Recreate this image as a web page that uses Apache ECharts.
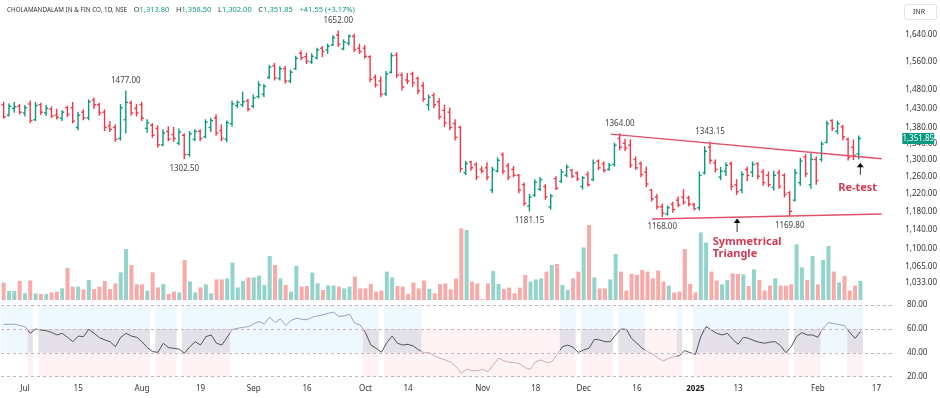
<!DOCTYPE html>
<html><head><meta charset="utf-8">
<script src="https://cdn.jsdelivr.net/npm/echarts/dist/echarts.min.js"></script>
<style>html,body{margin:0;padding:0;background:#fff}#c{width:940px;height:398px}</style>
</head><body><div id="c"></div>
<script>
// first bar index (Jul 1 2024 = 0)
const FIRST = -4;
const opens = [
1440,1412,1430,1436,1418,1442,1400,1440,1418,1428,
1412,1404,1432,1432,1380,1420,1405,1452,1440,1420,
1384,1380,1352,1400,1445,1430,1440,1378,1386,1378,
1336,1370,1362,1340,1360,1312,1350,1370,1356,1380,
1405,1372,1350,1390,1438,1440,1450,1436,1462,1468,
1515,1548,1512,1540,1505,1540,1585,1575,1560,1572,
1600,1595,1610,1640,1598,1615,1636,1600,1600,1575,
1515,1505,1470,1530,1580,1522,1508,1525,1512,1492,
1440,1465,1448,1425,1420,1390,1380,1268,1294,1288,
1276,1280,1228,1272,1312,1285,1276,1262,1240,1192,
1216,1230,1236,1190,1254,1248,1262,1274,1268,1236,
1264,1252,1296,1290,1276,1288,1352,1340,1335,1300,
1290,1270,1228,1212,1190,1174,1196,1205,1212,1210,
1195,1188,1268,1330,1292,1258,1272,1290,1240,1228,
1276,1270,1290,1270,1262,1234,1268,1262,1222,1205,
1245,1306,1240,1300,1300,1342,1398,1370,1382,1350,
1330,1313.8];
const highs = [
1446,1442,1446,1440,1438,1450,1446,1444,1438,1434,
1428,1424,1436,1446,1420,1426,1453,1458,1444,1426,
1395,1387,1440,1477,1450,1440,1446,1400,1390,1384,
1374,1382,1380,1376,1364,1370,1374,1374,1400,1404,
1413,1387,1397,1449,1450,1474,1455,1466,1503,1495,
1550,1555,1546,1546,1536,1576,1592,1585,1583,1600,
1605,1612,1638,1652,1625,1640,1642,1612,1608,1578,
1522,1516,1532,1585,1586,1528,1526,1530,1516,1500,
1466,1471,1456,1438,1431,1400,1383,1296,1296,1292,
1282,1292,1281,1304,1316,1290,1283,1264,1244,1218,
1252,1257,1241,1218,1259,1276,1287,1276,1270,1259,
1270,1299,1299,1294,1290,1340,1364,1350,1348,1306,
1294,1281,1229,1218,1196,1192,1200,1212,1229,1214,
1198,1270,1331,1343.15,1299,1281,1292,1294,1252,1270,
1282,1294,1292,1276,1270,1272,1274,1266,1224,1276,
1303,1312,1314,1306,1343,1396,1400,1396,1386,1353,
1348,1358.5];
const lows = [
1404,1410,1420,1415,1410,1392,1398,1414,1412,1406,
1402,1398,1408,1392,1374,1400,1400,1430,1412,1372,
1370,1345,1348,1366,1412,1410,1398,1368,1355,1330,
1334,1346,1345,1336,1302.5,1308,1346,1346,1354,1370,
1360,1346,1344,1383,1432,1435,1423,1432,1458,1462,
1512,1508,1508,1499,1500,1538,1566,1555,1555,1568,
1575,1585,1608,1605,1596,1610,1590,1585,1570,1503,
1488,1462,1465,1528,1515,1480,1498,1490,1470,1449,
1426,1432,1402,1383,1374,1348,1270,1264,1274,1252,
1268,1252,1222,1270,1266,1252,1259,1222,1193,1181.15,
1214,1227,1207,1185,1229,1245,1259,1257,1250,1230,
1237,1250,1276,1270,1274,1284,1324,1322,1281,1276,
1259,1236,1203,1185,1168,1172,1178,1190,1196,1192,
1183,1183,1265,1291,1270,1252,1262,1229,1218,1222,
1250,1259,1254,1239,1236,1228,1232,1212,1169.8,1203,
1239,1259,1232,1241,1296,1341,1372,1364,1348,1299,
1300,1302];
const closes = [
1408,1436,1434,1420,1432,1398,1438,1420,1430,1410,
1406,1420,1414,1396,1412,1405,1448,1440,1418,1380,
1375,1350,1432,1446,1418,1418,1404,1392,1360,1336,
1366,1350,1352,1368,1312,1364,1370,1352,1394,1398,
1366,1352,1392,1442,1446,1448,1428,1458,1494,1490,
1545,1514,1540,1505,1530,1570,1572,1562,1576,1595,
1590,1606,1632,1612,1618,1636,1596,1590,1576,1510,
1494,1468,1525,1578,1522,1488,1505,1500,1478,1455,
1460,1440,1408,1392,1380,1355,1278,1290,1280,1258,
1272,1258,1276,1298,1272,1258,1262,1228,1198,1212,
1246,1252,1212,1214,1232,1270,1282,1260,1254,1256,
1240,1292,1280,1274,1286,1335,1330,1328,1286,1280,
1264,1242,1208,1190,1176,1188,1184,1194,1200,1196,
1186,1262,1320,1298,1276,1272,1286,1236,1224,1264,
1262,1288,1260,1245,1240,1262,1236,1218,1180,1268,
1296,1266,1300,1250,1338,1390,1378,1390,1356,1305,
1310.3,1351.85];
// volume, millions of shares
const volumes = [
0.87,0.45,0.45,0.95,0.33,0.98,0.33,0.30,0.30,0.38,
0.42,0.58,1.60,0.67,0.67,0.53,1.00,0.55,0.67,0.95,
0.55,0.83,1.38,2.55,1.75,0.78,0.78,0.47,1.38,0.63,
0.80,0.30,0.42,0.38,2.00,0.93,0.38,0.63,0.78,0.33,
1.03,1.03,1.08,1.87,0.63,0.95,1.12,1.13,1.22,0.75,
2.20,1.75,1.08,0.75,0.42,1.70,0.67,0.70,1.37,0.83,
0.50,0.73,0.72,0.67,0.58,0.67,1.17,0.58,0.58,0.80,
0.42,0.47,1.42,1.13,0.70,0.67,0.30,0.87,0.58,0.97,
0.55,0.33,0.80,0.83,0.53,1.07,3.58,3.50,0.92,0.83,
0.05,0.83,1.45,0.80,0.55,0.62,0.33,0.62,1.25,0.92,
1.03,1.08,1.42,1.75,1.80,0.75,0.50,1.08,1.42,2.63,
3.75,1.13,0.58,0.58,1.03,2.30,1.42,0.47,1.30,1.25,
1.50,1.42,1.08,1.47,0.92,0.72,0.37,0.42,2.55,0.80,
0.38,3.38,2.87,1.42,0.97,0.78,1.00,1.33,1.30,1.28,
0.70,1.53,1.00,0.47,0.72,1.08,0.72,0.72,0.78,2.78,
1.63,1.00,2.20,0.78,2.00,2.70,1.42,0.88,1.20,0.47,
0.72,0.95];
const rsi = [
63.8,63.8,64,62.8,61.9,56.3,59.9,59.1,58.5,57.1,
54.9,56.3,53,49.3,54,53.5,59.6,56.3,52.7,50.8,
49.3,45.1,53,56.3,54,53,49.3,44.3,41,40.4,
48,44.3,43.8,43,39.6,45.1,49.3,46.5,53.5,54.9,
48,46.5,53,59.6,60.5,61.3,61.9,64.2,66.1,64.2,
69.8,65.3,68.4,62.8,67,68.9,68.1,67.6,69.8,70.9,
71.7,73.1,74,70.4,70.9,72.3,64.7,63.3,56.9,46.5,
43.8,40.4,48.5,54,48,46.5,47.1,45.7,42.4,40.1,
40.1,37.4,35.4,34,32.1,28.5,22.9,26.2,25,25,
26.2,24.2,29.8,35.4,33.4,32.1,31.8,30.7,27.6,26.2,
32.6,34,31.8,32.6,38.7,45.1,46.5,44.6,40.4,42.4,
43.8,51.3,50.8,49.3,49.3,54.9,59.9,59.6,52.1,48,
43.8,41,39,35.4,33.2,35.4,36.8,37.6,41.8,40.1,
38.7,53.5,61.9,59.1,56.3,54.9,56.3,51.3,47.1,53,
52.1,50.2,48.8,48,49,49.3,45.9,40.1,45.1,53.5,
56.9,54.9,54.9,53,60.5,65.3,64.4,63.6,62.8,56.9,
52.1,57.7];
// RSI background state zones: [first bar, last bar, B=bull / N=neutral / S=bear]
const rsiZones = [[-4,0,'B'],[1,1,'N'],[3,23,'N'],[25,28,'N'],[30,38,'N'],[39,63,'B'],[64,66,'N'],[68,74,'N'],
  [75,100,'S'],[101,103,'N'],[105,110,'N'],[112,116,'N'],[117,122,'S'],[123,123,'N'],[126,143,'N'],[145,149,'N'],[150,154,'B'],[155,157,'N']];
const dateTicks = [0,10,22,33,43,53,64,72,86,96,105,115,126,134,149,160];
const dateLabels = ['Jul','15','Aug','19','Sep','16','Oct','14','Nov','18','Dec','16','2025','13','Feb','17'];
const priceTicks = [1640,1560,1480,1430,1380,1340,1300,1260,1220,1180,1140,1100,1065,1033];
const rsiTicks = [80,60,40,20];
const pivots = [[19,1477,'1477.00','top'],[30,1302.5,'1302.50','bottom'],[59,1652,'1652.00','top'],[95,1181.15,'1181.15','bottom'],
  [112,1364,'1364.00','top'],[129,1343.15,'1343.15','top'],[120,1168,'1168.00','bottom'],[144,1169.8,'1169.80','bottom']];
const upperTrend = [[110.3,1363],[161.3,1302]];
const lowerTrend = [[118.1,1163.4],[161.3,1174.3]];
const arrows = [[134.1,1135.4,1163.4],[157.3,1263,1290.9]];
const notes = [[129.5,1127,'Symmetrical\nTriangle','left'],[156.8,1246.6,'Re-test','center']];

const GREEN='#089981', RED='#f23645', VGREEN='#93d3cc', VRED='#f8aaa8', NOTE='#d23a52';
const FONT='"Noto Sans", sans-serif';
const XMIN=-4.5, XMAX=163.5;
const bars = opens.map((o,k)=>[FIRST+k,o,highs[k],lows[k],closes[k]]);
const lastIdx = bars.length-1;
const fmt = v => v.toLocaleString('en-US',{minimumFractionDigits:2,maximumFractionDigits:2});
const labelMap = {}; dateTicks.forEach((t,k)=>labelMap[t]=dateLabels[k]);
const zoneLine = {B:'#97a3bd',N:'#4f5360',S:'#cfa9b2'};

const chart = echarts.init(document.getElementById('c'),null,{renderer:'canvas'});
const gridL=1, gridW=894;
const xAx = (gi,show) => ({type:'value',gridIndex:gi,min:XMIN,max:XMAX,show:true,
  axisLine:{show:false},axisTick:{show:false},splitLine:{show:false},
  axisLabel: show ? {customValues:dateTicks,fontSize:8,fontFamily:FONT,color:'#333',margin:5,
     formatter:v=>{const s=labelMap[v]||''; return /^\d{4}$/.test(s)?'{y|'+s+'}':s;},
     rich:{y:{fontWeight:'bold',fontSize:8,fontFamily:FONT,color:'#222'}}} : {show:false}});
const option = {
  animation:false,
  grid:[{left:gridL,width:gridW,top:0,height:300},{left:gridL,width:gridW,top:225,height:75},{left:gridL,width:gridW,top:301,height:79}],
  xAxis:[xAx(0,false),xAx(1,false),xAx(2,true)],
  yAxis:[
    {type:'log',gridIndex:0,min:1000.1,max:1750.7,position:'right',axisLine:{show:false},axisTick:{show:false},splitLine:{show:false},
     axisLabel:{customValues:priceTicks,formatter:v=>fmt(v),fontSize:8,fontFamily:FONT,color:'#333',margin:12}},
    {type:'value',gridIndex:1,min:0,max:3.75,show:false},
    {type:'value',gridIndex:2,min:17.24,max:83.35,position:'right',axisLine:{show:false},axisTick:{show:false},splitLine:{show:false},
     axisLabel:{customValues:rsiTicks,formatter:v=>fmt(v),fontSize:8,fontFamily:FONT,color:'#333',margin:12}}
  ],
  visualMap:{type:'piecewise',show:false,seriesIndex:1,dimension:0,
    pieces:rsiZones.map(z=>({gte:z[0]-0.5,lt:z[1]+0.5,color:zoneLine[z[2]]})),outOfRange:{color:zoneLine.N}},
  graphic:[
    {type:'text',left:7,top:4,style:{rich:{t:{fill:'#333',font:'6.3px '+FONT},k:{fill:'#333',font:'7.5px '+FONT},v:{fill:GREEN,font:'7.5px '+FONT}},
      text:'{t|CHOLAMANDALAM IN & FIN CO, 1D, NSE}  {k|O}{v|1,313.80}  {k|H}{v|1,358.50}  {k|L}{v|1,302.00}  {k|C}{v|1,351.85}  {v|+41.55 (+3.17%)}'}},
    {type:'rect',left:904,top:4,shape:{width:32,height:15,r:2},style:{fill:'#fff',stroke:'#e0e3eb'}},
    {type:'text',left:913,top:8,style:{text:'INR',font:'7px '+FONT,fill:'#333'}}
  ],
  series:[
    {type:'custom',xAxisIndex:2,yAxisIndex:2,silent:true,z:1,
     data:rsiZones.map(z=>[z[0],z[1],50]),encode:{x:[0,1],y:2},
     renderItem:(params,api)=>{
       const z=rsiZones[params.dataIndex];
       const xa=api.coord([z[0]-0.5,50])[0], xb=api.coord([z[1]+0.5,50])[0];
       const y=v=>api.coord([z[0],v])[1];
       const BL='rgba(33,150,243,0.07)', GR='rgba(120,100,140,0.2)', PK='rgba(242,54,69,0.06)';
       let parts = z[2]==='N' ? [[80,60,BL],[60,40,GR],[40,20,PK]] : z[2]==='B' ? [[80,40,BL]] : [[60,20,PK]];
       return {type:'group',children:parts.map(p=>({type:'rect',shape:{x:xa,y:y(p[0]),width:xb-xa,height:y(p[1])-y(p[0])},style:{fill:p[2]}}))};
     }},
    {type:'line',xAxisIndex:2,yAxisIndex:2,data:rsi.map((v,k)=>[FIRST+k,v]),symbol:'none',z:3,
     lineStyle:{width:1},
     markLine:{silent:true,symbol:'none',label:{show:false},lineStyle:{color:'#c7b3c0',type:[3,3],width:1},
       data:rsiTicks.map(t=>({yAxis:t}))}},
    {type:'bar',xAxisIndex:1,yAxisIndex:1,barWidth:4,z:2,
     data:volumes.map((v,k)=>({value:[FIRST+k,v],itemStyle:{color: closes[k]>=opens[k]?VGREEN:VRED}}))},
    {type:'custom',xAxisIndex:0,yAxisIndex:0,z:5,data:bars,encode:{x:0,y:[1,2,3,4]},
     renderItem:(params,api)=>{
       const i=api.value(0), o=api.value(1), h=api.value(2), l=api.value(3), c=api.value(4);
       const col = c>=o?GREEN:RED;
       const ph=api.coord([i,h]), pl=api.coord([i,l]), po=api.coord([i,o]), pc=api.coord([i,c]);
       const x=ph[0], st={stroke:col,lineWidth:1.4};
       return {type:'group',children:[
         {type:'line',shape:{x1:x,y1:ph[1]-0.5,x2:x,y2:pl[1]+0.5},style:st},
         {type:'line',shape:{x1:x-2.2,y1:po[1],x2:x,y2:po[1]},style:st},
         {type:'line',shape:{x1:x,y1:pc[1],x2:x+2.2,y2:pc[1]},style:st}]};
     }},
    {type:'line',xAxisIndex:0,yAxisIndex:0,data:upperTrend,symbol:'none',z:6,lineStyle:{color:'#e0506a',width:1.5}},
    {type:'line',xAxisIndex:0,yAxisIndex:0,data:lowerTrend,symbol:'none',z:6,lineStyle:{color:'#e0506a',width:1.5}},
    {type:'custom',xAxisIndex:0,yAxisIndex:0,z:7,data:pivots.map(p=>[p[0],p[1]]),encode:{x:0,y:1},
     renderItem:(params,api)=>{
       const p=pivots[params.dataIndex]; const c=api.coord([p[0],p[1]]); const top=p[3]==='top';
       return {type:'text',x:c[0],y:top?c[1]-6:c[1]+6,style:{text:p[2],font:'8px '+FONT,fill:'#444',align:'center',verticalAlign:top?'bottom':'top'}};
     }},
    {type:'custom',xAxisIndex:0,yAxisIndex:0,z:7,data:arrows.map(a=>[a[0],a[1],a[2]]),encode:{x:0,y:[1,2]},
     renderItem:(params,api)=>{
       const a=arrows[params.dataIndex]; const t=api.coord([a[0],a[1]]), h=api.coord([a[0],a[2]]);
       const st={stroke:'#333',lineWidth:1};
       return {type:'group',children:[
         {type:'line',shape:{x1:t[0],y1:t[1],x2:h[0],y2:h[1]},style:st},
         {type:'polyline',shape:{points:[[h[0]-3,h[1]+4],[h[0],h[1]],[h[0]+3,h[1]+4]]},style:st}]};
     }},
    {type:'custom',xAxisIndex:0,yAxisIndex:0,z:7,data:notes.map(n=>[n[0],n[1]]),encode:{x:0,y:1},
     renderItem:(params,api)=>{
       const n=notes[params.dataIndex]; const c=api.coord([n[0],n[1]]);
       return {type:'text',x:c[0],y:c[1],style:{text:n[2],font:'bold 11px '+FONT,fill:NOTE,align:n[3],verticalAlign:'top',lineHeight:12}};
     }},
    {type:'custom',xAxisIndex:0,yAxisIndex:0,z:8,clip:false,data:[[FIRST+lastIdx,closes[lastIdx]]],encode:{x:0,y:1},
     renderItem:(params,api)=>{
       const c=api.coord([api.value(0),api.value(1)]); const cs=params.coordSys; const x0=cs.x+cs.width+9;
       return {type:'group',children:[
         {type:'rect',shape:{x:x0,y:c[1]-5.5,width:32,height:11,r:1},style:{fill:GREEN}},
         {type:'text',x:x0+16,y:c[1],style:{text:fmt(api.value(1)),font:'8px '+FONT,fill:'#fff',align:'center',verticalAlign:'middle'}}]};
     }}
  ]
};
chart.setOption(option);
</script></body></html>
